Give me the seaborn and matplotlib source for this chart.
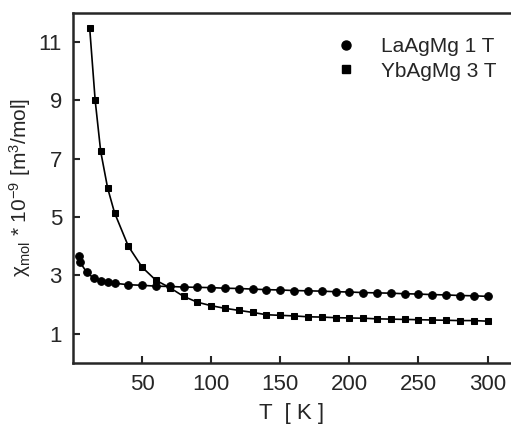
import numpy as np
import pandas as pd
import matplotlib
matplotlib.use("Agg")
import matplotlib.pyplot as plt
from matplotlib.lines import Line2D
import seaborn as sns

# LaAgMg 1 T (circles)
t_la = [4, 5, 10, 15, 20, 25, 30, 40, 50, 60, 70, 80, 90, 100, 110, 120, 130, 140,
        150, 160, 170, 180, 190, 200, 210, 220, 230, 240, 250, 260, 270, 280, 290, 300]
chi_la = [3.65, 3.45, 3.1, 2.9, 2.82, 2.76, 2.73, 2.68, 2.66, 2.63, 2.62, 2.6, 2.59,
          2.58, 2.56, 2.55, 2.53, 2.51, 2.5, 2.48, 2.47, 2.46, 2.44, 2.43, 2.41, 2.4,
          2.39, 2.37, 2.36, 2.34, 2.33, 2.31, 2.3, 2.28]

# YbAgMg 3 T (squares)
t_yb = [12, 16, 20, 25, 30, 40, 50, 60, 70, 80, 90, 100, 110, 120, 130, 140, 150,
        160, 170, 180, 190, 200, 210, 220, 230, 240, 250, 260, 270, 280, 290, 300]
chi_yb = [11.5, 9.0, 7.25, 6.0, 5.15, 4.0, 3.28, 2.83, 2.58, 2.28, 2.08, 1.96, 1.87,
          1.8, 1.73, 1.65, 1.63, 1.61, 1.58, 1.57, 1.55, 1.54, 1.53, 1.51, 1.5, 1.49,
          1.48, 1.47, 1.46, 1.45, 1.45, 1.43]

df_la = pd.DataFrame({"T": t_la, "chi": chi_la})
df_yb = pd.DataFrame({"T": t_yb, "chi": chi_yb})

sns.set_style("ticks")
plt.rcParams["font.family"] = ["Liberation Sans", "DejaVu Sans"]
plt.rcParams["mathtext.fontset"] = "custom"
plt.rcParams["mathtext.rm"] = "Liberation Sans"
plt.rcParams["mathtext.it"] = "Liberation Sans:italic"

fig = plt.figure(figsize=(5.11, 4.33), dpi=100)
ax = fig.add_axes([0.143, 0.162, 0.857, 0.808])

sns.lineplot(data=df_la, x="T", y="chi", ax=ax, color="black", lw=1.2,
             marker="o", markersize=5.5, markeredgecolor="black")
sns.lineplot(data=df_yb, x="T", y="chi", ax=ax, color="black", lw=1.2,
             marker="s", markersize=5, markeredgecolor="black")

ax.set_xlim(0, 317)
ax.set_ylim(0, 12)
ax.set_xticks([50, 100, 150, 200, 250, 300])
ax.set_yticks([1, 3, 5, 7, 9, 11])
ax.tick_params(direction="in", length=5, width=1.5, labelsize=16, pad=8)
for s in ["left", "bottom", "top"]:
    ax.spines[s].set_linewidth(1.8)
ax.spines["right"].set_visible(False)

ax.set_xlabel("T  [ K ]", fontsize=16, labelpad=6)
ax.set_ylabel(r"χ$_{\mathrm{mol}}$ * 10$^{-9}$ [m$^3$/mol]", fontsize=15, labelpad=4)

handles = [Line2D([], [], ls="none", marker="o", color="black", markersize=6.5),
           Line2D([], [], ls="none", marker="s", color="black", markersize=5.5)]
labels = ["LaAgMg 1 T", "YbAgMg 3 T"]
ax.legend(handles, labels, loc="upper right", frameon=False, fontsize=15,
          handlelength=1.0, handletextpad=1.2, borderaxespad=0.6,
          labelspacing=0.25, bbox_to_anchor=(1.015, 0.99))

fig.savefig("out.png", dpi=100)
